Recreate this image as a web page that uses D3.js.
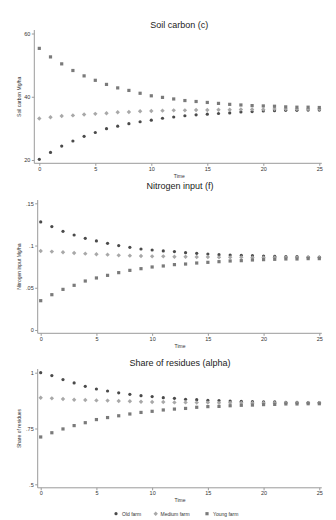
<!DOCTYPE html>
<html>
<head>
<meta charset="utf-8">
<script src="https://cdn.jsdelivr.net/npm/d3@7"></script>
<style>
  body { margin: 0; background: #fff; }
  svg { display: block; font-family: "Liberation Sans", Arial, sans-serif; }
</style>
</head>
<body>
<div id="container"></div>
<script>
// time steps 0..25
const time = [0,1,2,3,4,5,6,7,8,9,10,11,12,13,14,15,16,17,18,19,20,21,22,23,24,25];

// soil carbon (Mg/ha)
const carbonOld = [20.2,22.4,24.4,26,27.5,28.7,29.9,30.7,31.5,32.1,32.6,33.2,33.6,34,34.3,34.5,34.7,34.9,35.2,35.3,35.5,35.6,35.7,35.7,35.8,35.8];
const carbonMedium = [33.1,33.5,33.9,34.1,34.4,34.6,34.8,35.1,35.2,35.4,35.5,35.6,35.7,35.7,35.8,35.8,35.9,35.9,36,36,36,36.1,36.1,36.1,36.1,36.1];
const carbonYoung = [55.3,52.6,50.4,48.3,46.6,45.2,43.9,42.8,42,41.1,40.3,39.8,39.3,38.8,38.5,38.2,37.9,37.6,37.4,37.2,37.1,37,36.8,36.7,36.7,36.6];

// nitrogen input (Mg/ha)
const nitroOld = [0.128,0.1224,0.1168,0.1125,0.1085,0.1054,0.1026,0.0999,0.0979,0.0959,0.0947,0.0936,0.0928,0.0916,0.0908,0.09,0.0892,0.0888,0.0884,0.088,0.0876,0.0872,0.0868,0.0868,0.0864,0.0864];
const nitroMedium = [0.0936,0.0928,0.092,0.0912,0.0904,0.0896,0.0892,0.0884,0.088,0.0876,0.0872,0.0872,0.0868,0.0868,0.0864,0.0864,0.086,0.086,0.086,0.0857,0.0857,0.0857,0.0857,0.0857,0.0857,0.0857];
const nitroYoung = [0.0347,0.0418,0.0481,0.0529,0.058,0.0616,0.0647,0.0679,0.0706,0.0726,0.0746,0.0758,0.0774,0.0781,0.0793,0.0801,0.0809,0.0817,0.0821,0.0829,0.0833,0.0837,0.0841,0.0841,0.0845,0.0845];

// share of residues (alpha)
const alphaOld = [1.0,0.987,0.969,0.954,0.939,0.927,0.918,0.91,0.903,0.897,0.893,0.888,0.885,0.881,0.879,0.876,0.875,0.873,0.872,0.87,0.869,0.869,0.867,0.867,0.866,0.866];
const alphaMedium = [0.888,0.885,0.882,0.879,0.878,0.876,0.875,0.873,0.872,0.87,0.869,0.869,0.867,0.867,0.866,0.866,0.865,0.865,0.865,0.864,0.864,0.864,0.864,0.864,0.864,0.864];
const alphaYoung = [0.712,0.731,0.748,0.763,0.776,0.79,0.799,0.807,0.815,0.822,0.827,0.833,0.837,0.84,0.845,0.848,0.849,0.852,0.854,0.855,0.857,0.858,0.86,0.86,0.861,0.861];

const xTicks = [0,5,10,15,20,25];
const seriesNames = ["Old farm", "Medium farm", "Young farm"];

const width = 336;
const height = 520;

const svg = d3.select('#container')
    .append('svg')
    .attr('width', width)
    .attr('height', height);

const axisColor = "#9a9a9a";
const textColor = "#333";
const colors = { old: "#4a4a4a", medium: "#a8a8a8", young: "#7a7a7a" };

function drawMarker(g, kind, cx, cy) {
    if (kind === "old") {
        g.append("circle").attr("cx", cx).attr("cy", cy).attr("r", 1.6).attr("fill", colors.old);
    } else if (kind === "medium") {
        const s = 2.2;
        g.append("path")
            .attr("d", `M${cx},${cy - s}L${cx + s},${cy}L${cx},${cy + s}L${cx - s},${cy}Z`)
            .attr("fill", colors.medium);
    } else {
        g.append("rect").attr("x", cx - 1.6).attr("y", cy - 1.6)
            .attr("width", 3.2).attr("height", 3.2).attr("fill", colors.young);
    }
}

function drawPanel(p) {
    const g = svg.append("g");
    const x = d3.scaleLinear().domain([0, 25]).range([p.x0, p.x1]);
    const y = d3.scaleLinear().domain([p.yTicks[0], p.yTicks[p.yTicks.length - 1]]).range([p.yBottom, p.yTop]);

    // title
    g.append("text")
        .attr("x", (p.x0 + p.x1) / 2).attr("y", p.titleY)
        .attr("text-anchor", "middle")
        .attr("font-size", "9px").attr("fill", "#222")
        .text(p.title);

    // y axis
    const yAxis = g.append("g")
        .attr("transform", `translate(${p.axisX},0)`)
        .call(d3.axisLeft(y).tickValues(p.yTicks).tickFormat(p.yFormat).tickSize(2.5).tickPadding(1.5));
    yAxis.select(".domain").attr("stroke", axisColor).attr("d", `M0,${p.axisTop}V${p.axisY}`);
    yAxis.selectAll(".tick line").attr("stroke", axisColor);
    yAxis.selectAll(".tick text").attr("font-size", "5.5px").attr("fill", textColor);

    // x axis
    const xAxis = g.append("g")
        .attr("transform", `translate(0,${p.axisY})`)
        .call(d3.axisBottom(x).tickValues(xTicks).tickSize(2.5).tickPadding(1));
    xAxis.select(".domain").attr("stroke", axisColor).attr("d", `M${p.axisX},0H${p.x1 + 2.5}`);
    xAxis.selectAll(".tick line").attr("stroke", axisColor);
    xAxis.selectAll(".tick text").attr("font-size", "5.5px").attr("fill", textColor);

    g.append("text")
        .attr("x", (p.x0 + p.x1) / 2).attr("y", p.axisY + 14.5)
        .attr("text-anchor", "middle")
        .attr("font-size", "5px").attr("fill", textColor)
        .text("Time");

    g.append("text")
        .attr("transform", `translate(21,${(p.yTop + p.yBottom) / 2}) rotate(-90)`)
        .attr("text-anchor", "middle")
        .attr("font-size", "5px").attr("fill", textColor)
        .text(p.yLabel);

    const marks = g.append("g");
    [["old", p.old], ["medium", p.medium], ["young", p.young]].forEach(([kind, vals]) => {
        time.forEach((t, i) => drawMarker(marks, kind, x(t), y(vals[i])));
    });
}

drawPanel({
    title: "Soil carbon (c)", titleY: 28,
    yLabel: "Soil carbon Mg/ha",
    yTicks: [20, 40, 60], yFormat: d3.format("d"),
    x0: 39.3, x1: 319.3, yTop: 33.5, yBottom: 160,
    axisX: 34.3, axisY: 163.3, axisTop: 30,
    old: carbonOld, medium: carbonMedium, young: carbonYoung
});

drawPanel({
    title: "Nitrogen input (f)", titleY: 188.8,
    yLabel: "Nitrogen input Mg/ha",
    yTicks: [0, 0.05, 0.1, 0.15], yFormat: d => d === 0 ? "0" : d3.format(".2~f")(d).replace(/^0/, ""),
    x0: 40.7, x1: 319.3, yTop: 203.3, yBottom: 330,
    axisX: 37.7, axisY: 333.3, axisTop: 200,
    old: nitroOld, medium: nitroMedium, young: nitroYoung
});

drawPanel({
    title: "Share of residues (alpha)", titleY: 366.4,
    yLabel: "Share of residues",
    yTicks: [0.5, 0.75, 1], yFormat: d => d === 1 ? "1" : d3.format(".2~f")(d).replace(/^0/, ""),
    x0: 40.7, x1: 319.3, yTop: 372.7, yBottom: 484.3,
    axisX: 37.7, axisY: 487.8, axisTop: 369,
    old: alphaOld, medium: alphaMedium, young: alphaYoung
});

// legend
const legend = svg.append("g");
const legendItems = [
    { kind: "old", mx: 116, tx: 122 },
    { kind: "medium", mx: 155.7, tx: 160.5 },
    { kind: "young", mx: 207, tx: 213 }
];
legendItems.forEach((d, i) => {
    drawMarker(legend, d.kind, d.mx, 513.7);
    legend.append("text")
        .attr("x", d.tx).attr("y", 515.6)
        .attr("font-size", "5px").attr("fill", textColor)
        .text(seriesNames[i]);
});
</script>
</body>
</html>
